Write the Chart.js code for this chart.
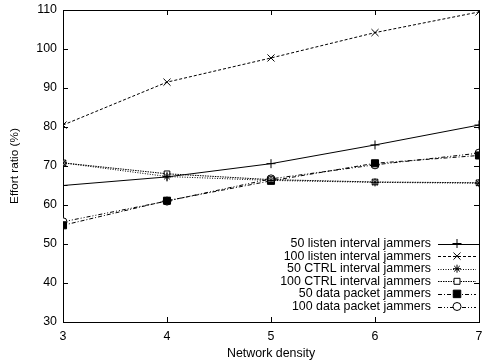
<!DOCTYPE html>
<html><head><meta charset="utf-8">
<script src="https://cdn.jsdelivr.net/npm/chart.js@4/dist/chart.umd.min.js"></script>
<style>html,body{margin:0;padding:0;background:#fff;overflow:hidden}#wrap{width:482px;height:363px;overflow:hidden}</style>
</head><body><div id="wrap"><canvas id="c" width="490" height="363"></canvas></div>
<script>
const densities = [3, 4, 5, 6, 7];
const yTicks = [30, 40, 50, 60, 70, 80, 90, 100, 110];
const seriesNames = [
  "50 listen interval jammers",
  "100 listen interval jammers",
  "50 CTRL interval jammers",
  "100 CTRL interval jammers",
  "50 data packet jammers",
  "100 data packet jammers"
];
const listen50 = [65.0, 67.2, 70.6, 75.4, 80.5];
const listen100 = [80.5, 91.5, 97.7, 104.2, 109.5];
const ctrl50 = [70.8, 67.3, 66.3, 65.8, 65.6];
const ctrl100 = [70.8, 68.0, 66.5, 65.9, 65.7];
const data50 = [54.8, 61.1, 66.2, 70.7, 72.7];
const data100 = [55.7, 61.0, 66.7, 70.3, 73.3];

const values = [listen50, listen100, ctrl50, ctrl100, data50, data100];
const styles = [
  {dash: [], ps: 'cross', bg: '#000', r: 4.5},
  {dash: [3, 2], ps: 'crossRot', bg: '#000', r: 5},
  {dash: [1, 1.5], ps: 'star', bg: '#000', r: 4},
  {dash: [1.5, 1], ps: 'rect', bg: '#fff', r: 4},
  {dash: [4, 2, 1, 2], ps: 'rect', bg: '#000', r: 5},
  {dash: [4, 2, 1, 2, 1, 2], ps: 'circle', bg: '#fff', r: 4}
];
const FONT = "'Liberation Sans', Arial, sans-serif";

const datasets = seriesNames.map((name, i) => ({
  label: name,
  data: densities.map((d, j) => ({x: d, y: values[i][j]})),
  borderColor: '#000',
  borderWidth: 1,
  borderDash: styles[i].dash,
  pointStyle: styles[i].ps,
  pointRadius: styles[i].r,
  pointBackgroundColor: styles[i].bg,
  pointBorderColor: '#000',
  pointBorderWidth: 1,
  fill: false,
  tension: 0
}));

const framePlugin = {
  id: 'frame',
  beforeDatasetsDraw(chart) {
    const {ctx, chartArea: a, scales} = chart;
    ctx.save();
    ctx.strokeStyle = '#000';
    ctx.lineWidth = 1;
    ctx.setLineDash([]);
    ctx.beginPath();
    densities.forEach(d => {
      const x = Math.round(scales.x.getPixelForValue(d)) + 0.5;
      ctx.moveTo(x, a.bottom); ctx.lineTo(x, a.bottom - 5);
      ctx.moveTo(x, a.top); ctx.lineTo(x, a.top + 5);
    });
    yTicks.forEach(v => {
      const y = Math.round(scales.y.getPixelForValue(v)) + 0.5;
      ctx.moveTo(a.left, y); ctx.lineTo(a.left + 5, y);
      ctx.moveTo(a.right, y); ctx.lineTo(a.right - 5, y);
    });
    ctx.stroke();
    ctx.strokeRect(Math.round(a.left) + 0.5, Math.round(a.top) + 0.5, Math.round(a.right - a.left), Math.round(a.bottom - a.top));
    ctx.restore();
  },
  afterDatasetsDraw(chart) {
    const {ctx} = chart;
    ctx.save();
    ctx.font = '12.4px ' + FONT;
    ctx.textAlign = 'right';
    ctx.textBaseline = 'middle';
    const x0 = 438, x1 = 476, xm = 457;
    chart.data.datasets.forEach((ds, i) => {
      const y = 243.5 + i * 12.6;
      ctx.fillStyle = '#000';
      ctx.fillText(ds.label, 431, y);
      ctx.strokeStyle = '#000';
      ctx.lineWidth = 1;
      ctx.setLineDash(ds.borderDash);
      ctx.beginPath();
      ctx.moveTo(x0, Math.round(y) + 0.5);
      ctx.lineTo(x1, Math.round(y) + 0.5);
      ctx.stroke();
      ctx.setLineDash([]);
      ctx.fillStyle = ds.pointBackgroundColor;
      ctx.strokeStyle = '#000';
      if (ds.pointStyle === 'rect') {
        ctx.beginPath();
        ctx.rect(xm - ds.pointRadius * 0.75, y - ds.pointRadius * 0.75, ds.pointRadius * 1.5, ds.pointRadius * 1.5);
        ctx.fill(); ctx.stroke();
      } else if (ds.pointStyle === 'circle') {
        ctx.beginPath();
        ctx.arc(xm, y, ds.pointRadius, 0, Math.PI * 2);
        ctx.fill(); ctx.stroke();
      } else {
        Chart.helpers.drawPoint(ctx, {
          pointStyle: ds.pointStyle, radius: ds.pointRadius, rotation: 0, borderWidth: 1
        }, xm, y);
      }
    });
    ctx.restore();
  }
};

Chart.defaults.font.family = FONT;
Chart.defaults.font.size = 12.4;
Chart.defaults.color = '#000';

new Chart(document.getElementById('c'), {
  type: 'line',
  data: {datasets},
  options: {
    responsive: false,
    animation: false,
    devicePixelRatio: 1,
    layout: {padding: {top: 10, right: 11, left: 0, bottom: 0}},
    plugins: {legend: {display: false}, tooltip: {enabled: false}},
    scales: {
      x: {
        type: 'linear', min: 3, max: 7,
        afterBuildTicks: s => { s.ticks = densities.map(v => ({value: v})); },
        grid: {display: false, drawTicks: false},
        border: {display: false},
        ticks: {padding: 7},
        title: {display: true, text: 'Network density', padding: {top: 0, bottom: 2}},
        afterFit: s => { s.height = 41; s.paddingLeft = 0; s.paddingRight = 0; }
      },
      y: {
        min: 30, max: 110,
        afterBuildTicks: s => { s.ticks = yTicks.map(v => ({value: v})); },
        grid: {display: false, drawTicks: false},
        border: {display: false},
        ticks: {padding: 6},
        title: {display: true, text: 'Effort ratio (%)', padding: {top: 8, bottom: 20}, font: {size: 11.8}},
        afterFit: s => { s.width = 63; s.paddingTop = 0; s.paddingBottom = 0; }
      }
    }
  },
  plugins: [framePlugin]
});
</script></body></html>
